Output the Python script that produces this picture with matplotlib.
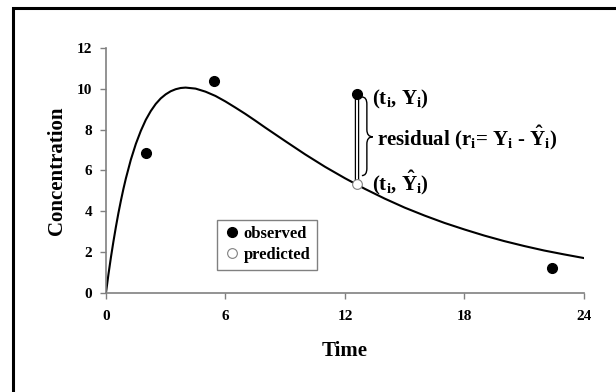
import numpy as np
import matplotlib
matplotlib.use('Agg')
import matplotlib.pyplot as plt
from matplotlib.path import Path
from matplotlib.patches import PathPatch, Rectangle

plt.rcParams['font.family'] = 'Liberation Serif'
plt.rcParams['font.weight'] = 'bold'
plt.rcParams['mathtext.fontset'] = 'custom'
plt.rcParams['mathtext.rm'] = 'Liberation Serif:bold'
plt.rcParams['mathtext.it'] = 'Liberation Serif:bold'
plt.rcParams['mathtext.bf'] = 'Liberation Serif:bold'

# fitted curve
curva_t = [0, 0.125, 0.25, 0.375, 0.5, 0.625, 0.75, 0.875, 1, 1.25, 1.5, 1.75, 2,
           2.25, 2.5, 2.75, 3, 3.25, 3.5, 3.75, 4, 4.5, 5, 5.5, 6, 6.5, 7, 7.5, 8,
           9, 10, 11, 12, 13, 14, 15, 16, 17, 18, 19, 20, 21, 22, 23, 24]
curva_c = [0, 0.91, 1.75, 2.52, 3.24, 3.91, 4.52, 5.09, 5.61, 6.53, 7.30, 7.94, 8.48,
           8.91, 9.26, 9.53, 9.73, 9.88, 9.98, 10.04, 10.06, 10.01, 9.86, 9.65, 9.38,
           9.08, 8.77, 8.44, 8.10, 7.44, 6.79, 6.18, 5.62, 5.10, 4.62, 4.18, 3.79,
           3.43, 3.11, 2.81, 2.54, 2.30, 2.08, 1.89, 1.71]

obs_t = [2.0, 5.4, 12.6, 22.4]
obs_c = [6.85, 10.4, 9.75, 1.2]

pred_t = [12.6]
pred_c = [5.35]

xticks = [0, 6, 12, 18, 24]
yticks = [0, 2, 4, 6, 8, 10, 12]

cinza = '#808080'

fig = plt.figure(figsize=(6.16, 3.92), dpi=100)
ax = fig.add_axes([0.172, 0.2526, 0.776, 0.625])

# moldura preta em volta
fig.patches.append(Rectangle((0.021, -0.05), 1.2, 1.03, transform=fig.transFigure,
                             fill=False, edgecolor='black', linewidth=2.2))

ax.plot(curva_t, curva_c, color='black', linewidth=1.5, zorder=2)

# residual: barra vertical
ax.plot([obs_t[2], pred_t[0]], [obs_c[2], pred_c[0]], color='black',
        linewidth=3.2, solid_capstyle='butt', zorder=3)
ax.plot([obs_t[2], pred_t[0]], [obs_c[2], pred_c[0]], color='white',
        linewidth=1.4, solid_capstyle='butt', zorder=3)

ax.plot(obs_t, obs_c, 'o', color='black', markersize=7, label='observed',
        clip_on=False, zorder=4)
ax.plot(pred_t, pred_c, 'o', markerfacecolor='white', markeredgecolor=cinza,
        markeredgewidth=0.8, markersize=7, label='predicted', clip_on=False, zorder=5)

# chave }
x0, xm, x2 = 12.85, 13.1, 13.4
yt, yb, ym = 9.6, 5.75, 7.65
d = 0.35
verts = [(x0, yt), (xm, yt), (xm, yt - d), (xm, ym + d), (xm, ym), (x2, ym),
         (xm, ym), (xm, ym - d), (xm, yb + d), (xm, yb), (x0, yb)]
codes = [Path.MOVETO, Path.CURVE3, Path.CURVE3, Path.LINETO, Path.CURVE3, Path.CURVE3,
         Path.CURVE3, Path.CURVE3, Path.LINETO, Path.CURVE3, Path.CURVE3]
ax.add_patch(PathPatch(Path(verts, codes), fill=False, edgecolor='black', linewidth=1.0))

ax.text(13.35, 9.5, r'(t$_\mathrm{i}$, Y$_\mathrm{i}$)', fontsize=15,
        fontweight='bold', va='center', ha='left')
ax.text(13.35, 5.4, r'(t$_\mathrm{i}$, $\hat{\mathrm{Y}}_\mathrm{i}$)', fontsize=15,
        fontweight='bold', va='center', ha='left')
ax.text(13.6, 7.6, r'residual (r$_\mathrm{i}$= Y$_\mathrm{i}$ - $\hat{\mathrm{Y}}_\mathrm{i}$)',
        fontsize=15, fontweight='bold', va='center', ha='left')

ax.set_xlim(0, 24)
ax.set_ylim(0, 12)
ax.set_xticks(xticks)
ax.set_yticks(yticks)
ax.tick_params(axis='both', direction='out', length=4, width=1, color=cinza,
               labelsize=11)
ax.tick_params(axis='x', pad=8)
ax.tick_params(axis='y', pad=6)
for lab in ax.get_xticklabels() + ax.get_yticklabels():
    lab.set_fontweight('bold')

for s in ['top', 'right']:
    ax.spines[s].set_visible(False)
for s in ['left', 'bottom']:
    ax.spines[s].set_color(cinza)
    ax.spines[s].set_linewidth(1.2)

ax.set_xlabel('Time', fontsize=15, fontweight='bold', labelpad=13)
ax.set_ylabel('Concentration', fontsize=15, fontweight='bold', labelpad=7)

leg = ax.legend(loc='lower left', bbox_to_anchor=(0.232, 0.094), borderaxespad=0,
                fancybox=False, edgecolor=cinza, framealpha=1, fontsize=12,
                handletextpad=0.2, handlelength=1.0, borderpad=0.4, labelspacing=0.3)
leg.get_frame().set_linewidth(1.0)
for t in leg.get_texts():
    t.set_fontweight('bold')

fig.savefig('out.png', dpi=100)
